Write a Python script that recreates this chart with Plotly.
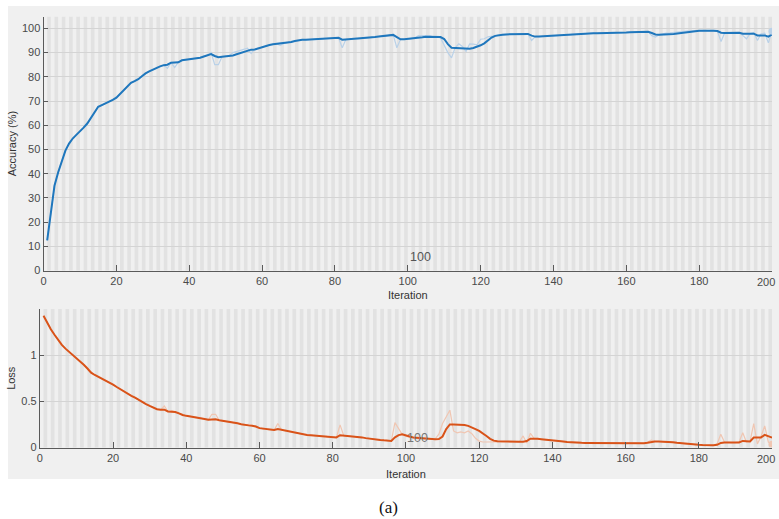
import plotly.graph_objects as go

iterations = list(range(1, 201))

acc_smooth = [
    12.4, 24.0, 35.0, 40.5, 45.5, 49.5, 52.4, 54.5, 56.0, 57.4,
    59.0, 60.7, 63.0, 65.4, 67.6, 68.3, 69.0, 69.6, 70.5, 71.4,
    72.9, 74.4, 76.0, 77.5, 78.2, 79.0, 80.2, 81.4, 82.2, 83.0,
    83.7, 84.3, 84.8, 85.0, 85.8, 85.9, 86.0, 86.8, 87.0, 87.2,
    87.4, 87.6, 87.9, 88.4, 88.8, 89.4, 88.6, 88.1, 88.3, 88.5,
    88.5, 88.8, 89.3, 89.8, 90.4, 91.0, 91.2, 91.3, 91.8, 92.3,
    92.7, 93.1, 93.4, 93.6, 93.7, 93.8, 94.1, 94.4, 94.8, 95.1,
    95.3, 95.3, 95.4, 95.4, 95.5, 95.6, 95.7, 95.8, 95.9, 96.0,
    96.1, 95.3, 95.4, 95.5, 95.5, 95.6, 95.7, 95.9, 96.1, 96.2,
    96.4, 96.6, 96.8, 97.0, 97.2, 97.3, 96.4, 95.5, 95.5, 95.6,
    95.7, 95.9, 96.1, 96.3, 96.5, 96.5, 96.5, 96.5, 96.4, 95.6,
    93.5, 92.0, 91.9, 91.8, 91.7, 91.5, 91.6, 91.9, 92.3, 93.0,
    93.8, 95.0, 96.2, 96.9, 97.3, 97.4, 97.5, 97.5, 97.5, 97.6,
    97.6, 97.7, 97.7, 97.0, 96.6, 96.6, 96.7, 96.8, 96.8, 96.9,
    97.1, 97.3, 97.5, 97.6, 97.7, 97.8, 97.9, 97.9, 98.0, 98.0,
    98.0, 98.0, 98.0, 98.0, 98.1, 98.1, 98.1, 98.2, 98.2, 98.3,
    98.4, 98.4, 98.4, 98.5, 98.5, 98.6, 98.1, 97.5, 97.4, 97.4,
    97.5, 97.6, 97.7, 97.9, 98.1, 98.3, 98.5, 98.7, 98.9, 99.0,
    99.0, 99.1, 99.1, 99.0, 98.9, 98.2, 98.1, 98.1, 98.2, 98.2,
    98.2, 97.8, 97.7, 97.9, 97.8, 97.1, 97.0, 97.1, 96.6, 97.5,
]

acc_raw = [
    12.4, 24.0, 35.0, 40.5, 45.5, 49.5, 52.4, 54.5, 56.0, 57.4,
    59.0, 60.7, 63.0, 65.4, 67.6, 68.3, 69.0, 69.6, 70.5, 71.4,
    72.9, 74.4, 76.0, 77.5, 78.2, 79.0, 80.2, 81.4, 82.2, 83.0,
    83.7, 84.3, 84.8, 83.5, 85.8, 83.8, 86.0, 86.8, 87.0, 87.2,
    87.4, 87.6, 87.9, 88.4, 88.8, 90.0, 85.0, 85.0, 88.3, 88.5,
    88.7, 90.0, 90.5, 91.0, 91.2, 91.8, 89.6, 91.5, 91.8, 92.3,
    92.7, 93.1, 93.4, 93.6, 93.0, 93.8, 94.1, 94.4, 94.8, 95.1,
    95.3, 95.3, 95.4, 95.4, 95.5, 95.6, 95.7, 95.8, 95.9, 96.0,
    96.1, 92.0, 95.4, 95.5, 95.5, 95.6, 95.7, 95.9, 96.1, 96.2,
    96.4, 96.6, 96.8, 97.0, 97.2, 97.3, 92.0, 95.5, 95.5, 95.6,
    95.7, 96.2, 97.0, 97.0, 97.0, 97.0, 96.5, 96.5, 96.0, 93.0,
    90.0, 87.8, 92.0, 93.6, 92.5, 90.5, 93.6, 93.5, 93.2, 95.5,
    95.7, 96.5, 96.8, 97.0, 97.3, 97.4, 97.5, 97.5, 97.5, 97.6,
    97.6, 97.7, 97.7, 95.0, 96.6, 96.6, 96.7, 96.8, 96.8, 96.9,
    97.1, 97.3, 97.5, 97.6, 97.7, 97.8, 97.9, 97.9, 98.0, 98.0,
    98.0, 98.0, 98.0, 98.0, 98.1, 98.1, 98.1, 98.2, 98.2, 98.3,
    98.4, 98.4, 98.4, 98.5, 98.5, 98.6, 97.0, 96.4, 97.4, 97.8,
    98.0, 98.1, 98.2, 98.4, 98.6, 98.8, 99.0, 99.0, 99.0, 99.0,
    99.0, 99.1, 99.1, 99.0, 98.9, 94.6, 98.1, 98.1, 98.2, 98.2,
    98.2, 97.0, 95.7, 97.9, 98.3, 95.0, 97.8, 98.0, 94.0, 98.8,
]

loss_smooth = [
    1.426, 1.350, 1.280, 1.220, 1.165, 1.110, 1.070, 1.036, 1.000, 0.970,
    0.935, 0.895, 0.855, 0.810, 0.785, 0.765, 0.745, 0.720, 0.700, 0.680,
    0.655, 0.630, 0.605, 0.580, 0.560, 0.540, 0.515, 0.495, 0.470, 0.450,
    0.430, 0.415, 0.410, 0.410, 0.390, 0.390, 0.385, 0.370, 0.352, 0.343,
    0.337, 0.333, 0.328, 0.318, 0.308, 0.300, 0.305, 0.307, 0.295, 0.290,
    0.285, 0.280, 0.272, 0.262, 0.252, 0.242, 0.240, 0.237, 0.228, 0.210,
    0.203, 0.197, 0.190, 0.190, 0.200, 0.192, 0.182, 0.173, 0.164, 0.155,
    0.147, 0.142, 0.137, 0.133, 0.130, 0.126, 0.122, 0.118, 0.113, 0.108,
    0.110, 0.134, 0.131, 0.128, 0.126, 0.122, 0.117, 0.110, 0.102, 0.095,
    0.090, 0.086, 0.082, 0.078, 0.074, 0.072, 0.110, 0.135, 0.144, 0.135,
    0.120, 0.108, 0.104, 0.100, 0.096, 0.092, 0.090, 0.090, 0.092, 0.120,
    0.200, 0.250, 0.250, 0.250, 0.248, 0.245, 0.235, 0.220, 0.200, 0.180,
    0.155, 0.125, 0.095, 0.075, 0.068, 0.066, 0.065, 0.065, 0.064, 0.063,
    0.063, 0.063, 0.070, 0.095, 0.097, 0.094, 0.090, 0.087, 0.084, 0.081,
    0.077, 0.072, 0.065, 0.059, 0.055, 0.053, 0.052, 0.051, 0.050, 0.050,
    0.050, 0.050, 0.049, 0.049, 0.048, 0.047, 0.046, 0.045, 0.044, 0.043,
    0.045, 0.047, 0.047, 0.047, 0.047, 0.052, 0.062, 0.066, 0.066, 0.066,
    0.065, 0.062, 0.058, 0.053, 0.048, 0.043, 0.039, 0.036, 0.033, 0.030,
    0.028, 0.026, 0.025, 0.025, 0.030, 0.050, 0.054, 0.054, 0.054, 0.054,
    0.055, 0.072, 0.068, 0.066, 0.108, 0.112, 0.110, 0.137, 0.125, 0.108,
]

loss_raw = [
    1.426, 1.350, 1.280, 1.220, 1.165, 1.110, 1.070, 1.036, 1.000, 0.970,
    0.935, 0.895, 0.855, 0.810, 0.785, 0.765, 0.745, 0.720, 0.700, 0.680,
    0.655, 0.630, 0.605, 0.580, 0.560, 0.540, 0.515, 0.495, 0.470, 0.450,
    0.430, 0.415, 0.410, 0.450, 0.390, 0.400, 0.385, 0.370, 0.352, 0.343,
    0.337, 0.333, 0.328, 0.318, 0.308, 0.300, 0.360, 0.360, 0.295, 0.290,
    0.285, 0.280, 0.272, 0.262, 0.252, 0.242, 0.250, 0.237, 0.228, 0.210,
    0.203, 0.197, 0.190, 0.190, 0.260, 0.192, 0.182, 0.173, 0.164, 0.155,
    0.147, 0.142, 0.137, 0.133, 0.130, 0.126, 0.122, 0.118, 0.113, 0.108,
    0.110, 0.245, 0.131, 0.128, 0.126, 0.122, 0.117, 0.110, 0.102, 0.095,
    0.090, 0.086, 0.082, 0.078, 0.074, 0.072, 0.270, 0.200, 0.140, 0.120,
    0.110, 0.100, 0.098, 0.095, 0.092, 0.090, 0.090, 0.095, 0.144, 0.260,
    0.330, 0.404, 0.180, 0.160, 0.170, 0.160, 0.180, 0.150, 0.100, 0.070,
    0.060, 0.060, 0.060, 0.060, 0.062, 0.063, 0.064, 0.065, 0.064, 0.063,
    0.063, 0.126, 0.050, 0.155, 0.100, 0.090, 0.088, 0.085, 0.082, 0.079,
    0.074, 0.068, 0.060, 0.055, 0.052, 0.052, 0.051, 0.050, 0.050, 0.050,
    0.050, 0.050, 0.049, 0.049, 0.048, 0.047, 0.046, 0.045, 0.044, 0.043,
    0.046, 0.048, 0.047, 0.047, 0.047, 0.060, 0.080, 0.068, 0.066, 0.066,
    0.064, 0.060, 0.055, 0.050, 0.045, 0.040, 0.037, 0.034, 0.031, 0.028,
    0.026, 0.025, 0.025, 0.025, 0.040, 0.144, 0.060, 0.054, 0.054, 0.054,
    0.060, 0.160, 0.060, 0.066, 0.260, 0.040, 0.120, 0.235, 0.060, 0.036,
]

acc_ticks = [0, 10, 20, 30, 40, 50, 60, 70, 80, 90, 100]
loss_ticks = [0, 0.5, 1]
loss_tick_labels = ["0", "0.5", "1"]
iter_ticks = [0, 20, 40, 60, 80, 100, 120, 140, 160, 180, 200]
last_iter_label = "200"
epoch_label = "100"
epoch_label_iter = 100

W, H = 779, 519          # target picture size (positions below are in these px)
FIG_H = 526              # figure height (rendered picture is squeezed to 519)
BLUE = "#1f77bd"
BLUE_RAW = "#b9d1e8"
ORANGE = "#d95319"
ORANGE_RAW = "#f0c6b2"
TXT = "#4a4a4a"
FONT = "Liberation Sans"

fig = go.Figure()

fig.add_trace(go.Scatter(x=iterations, y=acc_raw, mode="lines",
                         line=dict(color=BLUE_RAW, width=1.2),
                         xaxis="x", yaxis="y", hoverinfo="skip"))
fig.add_trace(go.Scatter(x=iterations, y=acc_smooth, mode="lines",
                         line=dict(color=BLUE, width=2),
                         xaxis="x", yaxis="y"))
fig.add_trace(go.Scatter(x=[iterations[-1]], y=[acc_raw[-1]], mode="markers",
                         marker=dict(color=BLUE_RAW, size=7),
                         xaxis="x", yaxis="y"))

fig.add_trace(go.Scatter(x=iterations, y=loss_raw, mode="lines",
                         line=dict(color=ORANGE_RAW, width=1.2),
                         xaxis="x2", yaxis="y2", hoverinfo="skip"))
fig.add_trace(go.Scatter(x=iterations, y=loss_smooth, mode="lines",
                         line=dict(color=ORANGE, width=2),
                         xaxis="x2", yaxis="y2"))
fig.add_trace(go.Scatter(x=[iterations[-1]], y=[loss_raw[-1]], mode="markers",
                         marker=dict(color=ORANGE_RAW, size=7),
                         xaxis="x2", yaxis="y2"))

shapes = []
# outer grey panel
shapes.append(dict(type="rect", xref="paper", yref="paper",
                   x0=5 / W, x1=1, y0=1 - 478 / H, y1=1 - 6 / H,
                   fillcolor="#f0f0f0", line=dict(width=0), layer="below"))
# alternating epoch shading (one iteration per epoch)
for xr, yr in (("x", "y domain"), ("x2", "y2 domain")):
    for ep in iterations:
        if ep % 2 == 0:
            shapes.append(dict(type="rect", xref=xr, yref=yr,
                               x0=ep - 1, x1=ep, y0=0, y1=1,
                               fillcolor="#e2e2e2", line=dict(width=0),
                               layer="below"))

axis_common = dict(
    showline=True, linecolor="#5a5a5a", linewidth=1,
    ticks="inside", tickcolor="#5a5a5a", tickwidth=1,
    tickfont=dict(family=FONT, size=11, color=TXT),
    zeroline=False, mirror=False,
)
title_font = dict(family=FONT, size=11, color="#333333")

fig.update_layout(
    width=W, height=FIG_H,
    margin=dict(l=0, r=0, t=0, b=0),
    paper_bgcolor="white", plot_bgcolor="white",
    showlegend=False,
    shapes=shapes,
    xaxis=dict(domain=[40.7 / W, 772 / W], range=[0, 200], anchor="y",
               tickvals=iter_ticks, showgrid=False, ticklen=6,
               title=dict(text="Iteration", standoff=5, font=title_font),
               **axis_common),
    yaxis=dict(domain=[1 - 270 / H, 1 - 16.7 / H], range=[0, 104.8], anchor="x",
               tickvals=acc_ticks, showgrid=True, gridcolor="#d4d4d4",
               ticklen=4,
               title=dict(text="Accuracy (%)", standoff=3, font=title_font),
               **axis_common),
    xaxis2=dict(domain=[37 / W, 772 / W], range=[0, 200], anchor="y2",
                tickvals=iter_ticks, showgrid=False, ticklen=6,
                title=dict(text="Iteration", standoff=7, font=title_font),
                **axis_common),
    yaxis2=dict(domain=[1 - 446.7 / H, 1 - 308.3 / H], range=[0, 1.5], anchor="x2",
                tickvals=loss_ticks, ticktext=loss_tick_labels,
                showgrid=True, gridcolor="#d4d4d4", ticklen=4,
                title=dict(text="Loss", standoff=3, font=title_font),
                **axis_common),
    annotations=[
        dict(x=epoch_label_iter, y=5.5, xref="x", yref="y", text=epoch_label,
             showarrow=False, xanchor="left", yanchor="middle", xshift=0,
             font=dict(family=FONT, size=12.5, color="#555555")),
        dict(x=epoch_label_iter, y=0.1, xref="x2", yref="y2", text=epoch_label,
             showarrow=False, xanchor="left", yanchor="middle", xshift=-1,
             font=dict(family=FONT, size=12.5, color="#777777")),
        # last x tick label, kept inside the figure edge
        dict(x=1, y=1 - 281 / H, xref="paper", yref="paper", text=last_iter_label,
             showarrow=False, xanchor="right", yanchor="middle", xshift=-2,
             font=dict(family=FONT, size=11, color=TXT)),
        dict(x=1, y=1 - 458 / H, xref="paper", yref="paper", text=last_iter_label,
             showarrow=False, xanchor="right", yanchor="middle", xshift=-2,
             font=dict(family=FONT, size=11, color=TXT)),
        dict(x=387 / W, y=1 - 507 / H, xref="paper", yref="paper", text="(a)",
             showarrow=False, xanchor="center", yanchor="middle",
             font=dict(family="Liberation Serif", size=17, color="#111111")),
    ],
)

page_fix = "document.body.style.margin='0px';document.body.style.overflow='hidden';"

fig.write_html(
    "out.html",
    config={"displayModeBar": False},
    post_script=page_fix,
)
